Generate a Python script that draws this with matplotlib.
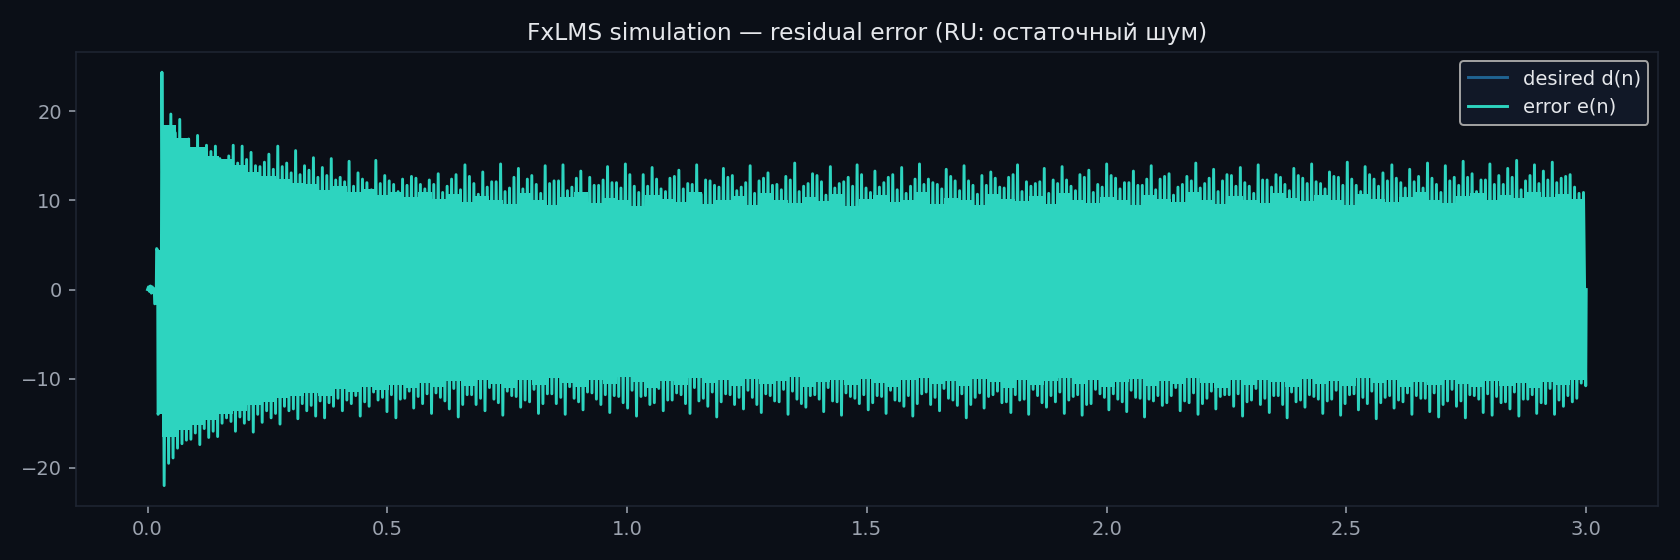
import numpy as np
import matplotlib
matplotlib.use("Agg")
import matplotlib.pyplot as plt

# colours
BG = "#0b0f17"
FG = "#e5e7eb"
MUTED = "#9ca3af"
SPINE = "#1f2633"
C_DES = "#1f6391"
C_ERR = "#2dd4bf"

# --- data (s, amplitude) ---
# start-up samples before adaptation kicks in
early_t = [0.000, 0.002, 0.004, 0.006, 0.008, 0.010, 0.012, 0.014, 0.015, 0.018, 0.019, 0.021, 0.022, 0.024, 0.028]
early_v = [0.0, 0.3, -0.2, 0.4, -0.4, 0.3, -0.3, 0.1, -1.6, -1.5, 4.6, 4.4, -14.0, -13.5, -13.8]
early_block_t = [0.022, 0.030]
early_block_hi = [4.4, 4.4]
early_block_lo = [-14.0, -14.0]

# tall upper peaks of e(n), 0.03 s .. 2.985 s
peak_hi = [
    24.4, 19.7, 19.1, 16.9, 17.3, 16.2, 16.1, 14.5, 16.2, 16.1,
    15.4, 13.8, 15.2, 16.1, 14.2, 15.6, 13.9, 14.8, 13.7, 14.7,
    12.6, 14.4, 13.1, 12.0, 14.5, 12.8, 11.8, 12.4, 12.7, 11.8,
    12.3, 13.0, 11.6, 12.9, 14.0, 11.9, 13.2, 12.1, 14.1, 11.4,
    13.6, 12.4, 11.8, 13.9, 12.2, 14.0, 11.5, 13.3, 12.6, 11.7,
    13.8, 12.0, 14.1, 11.6, 12.9, 13.7, 11.3, 12.5, 13.4, 11.9,
    14.0, 12.3, 11.7, 13.6, 12.8, 11.5, 13.9, 12.2, 13.1, 11.8,
    12.7, 14.2, 11.6, 13.0, 12.1, 13.8, 11.9, 12.6, 14.0, 11.4,
    13.3, 12.0, 12.9, 13.7, 11.6, 14.1, 12.4, 11.8, 13.5, 12.2,
    13.9, 11.7, 12.8, 13.2, 11.5, 12.6, 14.0, 12.1, 11.9, 13.6,
    12.3, 13.8, 11.6, 12.9, 13.4, 11.8, 14.1, 12.5, 12.0, 13.3,
    11.7, 13.9, 12.4, 13.0, 11.5, 12.7, 14.2, 11.9, 13.5, 12.2,
    12.8, 13.7, 11.6, 14.0, 12.3, 12.9, 11.8, 13.6, 12.5, 14.1,
    11.9, 13.2, 12.6, 14.3, 11.7, 13.8, 12.4, 13.1, 14.0, 12.0,
    13.5, 12.7, 14.2, 11.8, 13.9, 12.6, 14.4, 13.0, 12.3, 14.1,
    12.8, 13.6, 14.5, 12.2, 14.0, 13.3, 14.3, 12.5, 12.9, 10.8,
]
# tall lower peaks
peak_lo = [
    -22.0, -18.9, -17.3, -16.8, -17.4, -16.6, -16.5, -14.4, -15.9, -15.0,
    -16.0, -14.9, -14.4, -15.1, -13.6, -14.5, -13.6, -14.2, -14.4, -13.1,
    -13.6, -12.8, -14.2, -13.1, -12.4, -13.7, -14.4, -12.2, -13.3, -12.8,
    -13.9, -12.1, -13.4, -14.3, -11.8, -12.9, -13.6, -12.3, -14.1, -11.9,
    -13.2, -12.6, -13.9, -11.7, -12.8, -14.0, -12.2, -13.5, -11.6, -12.9,
    -13.8, -12.0, -13.3, -14.2, -11.9, -12.7, -13.6, -12.4, -11.8, -13.9,
    -12.5, -13.1, -14.3, -11.7, -12.9, -13.4, -12.1, -13.8, -11.9, -12.6,
    -14.0, -12.3, -13.2, -11.8, -13.7, -12.5, -14.1, -12.0, -12.8, -13.5,
    -11.9, -13.9, -12.4, -13.1, -14.2, -11.7, -12.9, -13.6, -12.2, -13.0,
    -14.4, -12.1, -13.3, -11.8, -12.7, -13.8, -12.4, -14.0, -11.9, -13.2,
    -12.6, -13.9, -12.0, -14.1, -12.8, -11.7, -13.5, -12.3, -13.7, -12.1,
    -14.3, -12.5, -13.0, -11.9, -13.6, -12.7, -14.0, -12.2, -13.4, -11.8,
    -13.1, -14.2, -12.4, -12.9, -13.8, -11.9, -14.4, -12.6, -13.2, -12.0,
    -13.9, -12.3, -14.1, -11.8, -13.5, -12.8, -14.5, -12.1, -13.3, -12.6,
    -14.0, -12.2, -13.7, -14.3, -12.5, -13.1, -14.4, -11.9, -13.8, -14.1,
    -12.7, -13.4, -14.2, -12.3, -13.9, -12.8, -14.0, -13.1, -12.6, -10.5,
]
# smaller in-between upper peaks
peak_hi2 = [
    18.2, 17.6, 16.4, 15.8, 15.1, 15.5, 14.7, 15.0, 14.2, 14.6,
    13.9, 14.3, 13.5, 13.8, 13.1, 12.9, 13.4, 12.6, 12.8, 12.3,
    12.1, 11.6, 12.4, 11.2, 11.9, 12.2, 11.0, 11.7, 12.5, 11.3,
    11.8, 10.9, 12.4, 11.2, 12.7, 10.7, 11.5, 12.1, 11.0, 12.6,
    11.3, 12.8, 10.8, 11.9, 12.2, 11.1, 12.5, 10.6, 11.7, 12.3,
    12.0, 11.4, 12.9, 10.9, 11.6, 12.4, 11.0, 12.7, 11.3, 11.8,
    10.7, 12.2, 11.5, 12.6, 11.1, 12.0, 10.8, 12.5, 11.7, 11.2,
    12.3, 11.0, 11.9, 12.8, 10.6, 11.4, 12.1, 11.6, 12.9, 10.9,
    11.5, 12.6, 11.2, 10.8, 12.4, 11.8, 12.0, 11.3, 12.7, 11.1,
    12.2, 10.7, 11.7, 12.5, 11.4, 12.9, 11.0, 11.6, 12.1, 10.8,
    11.9, 12.3, 11.1, 12.6, 10.9, 11.5, 12.8, 11.3, 12.0, 11.7,
    12.4, 11.2, 12.7, 10.6, 11.8, 12.2, 11.4, 12.5, 11.0, 12.9,
    11.6, 12.0, 10.8, 12.3, 11.5, 12.6, 11.1, 12.8, 11.9, 12.1,
    11.3, 12.7, 11.7, 12.4, 11.0, 12.9, 11.6, 12.2, 12.5, 11.4,
    12.1, 11.4, 12.5, 10.9, 12.2, 11.7, 12.6, 11.0, 12.3, 11.8,
    11.8, 12.6, 11.2, 12.8, 11.9, 12.3, 12.0, 12.7, 11.5, 10.9,
]
# smaller in-between lower peaks
peak_lo2 = [
    -19.5, -17.8, -16.9, -16.1, -15.6, -15.9, -15.0, -14.8, -14.3, -14.6,
    -14.0, -13.6, -13.9, -13.1, -13.4, -12.8, -13.0, -12.5, -12.7, -12.2,
    -12.4, -11.9, -12.6, -11.5, -12.1, -11.8, -12.3, -11.4, -12.0, -11.7,
    -11.6, -12.5, -11.1, -12.9, -11.8, -12.2, -11.0, -12.7, -11.4, -12.0,
    -12.4, -11.2, -12.8, -11.7, -12.1, -10.9, -12.6, -11.5, -12.3, -11.8,
    -11.9, -12.7, -11.3, -12.0, -12.9, -11.1, -12.4, -11.6, -12.8, -11.0,
    -12.2, -11.5, -12.6, -11.8, -12.1, -11.3, -12.9, -11.7, -12.5, -11.2,
    -11.4, -12.8, -11.9, -12.3, -11.0, -12.6, -11.6, -12.2, -11.8, -12.7,
    -12.0, -11.3, -12.5, -11.9, -12.8, -11.5, -12.1, -11.1, -12.4, -11.7,
    -12.9, -11.6, -12.0, -11.4, -12.6, -11.8, -12.3, -11.2, -12.7, -11.9,
    -11.5, -12.4, -11.8, -12.9, -11.2, -12.1, -11.7, -12.6, -11.3, -12.2,
    -12.3, -11.9, -12.7, -11.0, -12.5, -11.6, -12.8, -11.4, -12.0, -11.8,
    -11.7, -12.6, -11.1, -12.2, -11.9, -12.9, -11.5, -12.4, -11.8, -12.3,
    -12.5, -11.3, -12.8, -11.7, -12.1, -11.4, -12.7, -11.9, -12.4, -11.6,
    -11.9, -12.2, -11.6, -12.9, -11.2, -12.5, -11.8, -12.3, -11.7, -12.0,
    -12.6, -11.5, -12.3, -11.8, -12.7, -11.1, -12.4, -11.9, -12.2, -10.8,
]
end_t, end_v = 3.0, 0.0

# solid body of the oscillation: plateau level per 0.03 s block
plat_hi = [
    18.5, 17.0, 16.0, 15.0, 14.6, 14.0, 13.2, 12.8, 12.4, 12.0,
    11.8, 11.2, 11.6, 10.9, 11.3, 10.6, 11.0, 10.4, 10.9, 10.2,
    10.7, 9.8, 10.5, 10.1, 9.6, 10.8, 10.0, 9.5, 10.4, 10.9,
    9.7, 10.3, 10.0, 9.4, 10.6, 10.2, 9.8, 10.9, 9.6, 10.1,
    10.5, 9.5, 10.8, 10.0, 9.7, 10.4, 9.9, 10.7, 9.4, 10.2,
    10.6, 9.8, 10.1, 10.9, 9.6, 10.3, 10.0, 9.5, 10.7, 10.2,
    9.9, 10.5, 9.6, 10.8, 10.1, 9.7, 10.4, 10.0, 9.5, 10.6,
    10.2, 9.8, 10.9, 10.0, 9.6, 10.5, 10.1, 9.7, 10.8, 10.3,
    9.9, 10.6, 10.0, 9.5, 10.7, 10.2, 9.8, 10.4, 10.9, 10.1,
    9.7, 10.5, 10.8, 10.0, 10.6, 10.3, 10.9, 10.4, 10.7, 10.2,
]
plat_lo = [
    -16.5, -15.8, -15.2, -14.6, -14.0, -13.6, -13.0, -12.6, -12.2, -11.9,
    -11.6, -11.9, -11.2, -11.5, -10.9, -11.3, -10.7, -11.1, -10.5, -10.9,
    -10.3, -10.8, -10.1, -10.6, -11.0, -10.2, -10.7, -9.9, -10.5, -10.9,
    -10.1, -10.6, -9.8, -10.4, -11.0, -10.3, -10.7, -9.9, -10.5, -10.2,
    -10.8, -10.0, -10.6, -10.3, -9.8, -10.9, -10.4, -10.1, -10.7, -10.0,
    -10.5, -10.9, -10.2, -9.9, -10.6, -10.3, -10.8, -10.0, -10.4, -11.0,
    -10.1, -10.7, -10.3, -9.9, -10.6, -10.2, -10.9, -10.4, -10.0, -10.8,
    -10.3, -10.6, -9.9, -10.5, -11.0, -10.2, -10.7, -10.1, -10.4, -10.9,
    -10.0, -10.6, -10.3, -10.8, -9.9, -10.5, -10.2, -10.9, -10.4, -10.7,
    -10.1, -10.6, -10.9, -10.3, -10.8, -10.5, -11.0, -10.4, -10.7, -10.2,
]

# desired signal (hidden under the error trace)
des_t = [0.035, 0.3, 0.6, 0.9, 1.2, 1.5, 1.8, 2.1, 2.4, 2.7, 2.99]
des_v = [0.0, 6.0, -6.0, 6.0, -6.0, 6.0, -6.0, 6.0, -6.0, 6.0, 0.0]

# build the e(n) trace: early samples, then the four peak sets in turn
n = len(peak_hi)
t0 = np.linspace(0.03, 2.985, n)
step = t0[1] - t0[0]
t_pk = np.column_stack([t0, t0 + step / 4, t0 + step / 2, t0 + 3 * step / 4]).ravel()
v_pk = np.column_stack([peak_hi, peak_lo, peak_hi2, peak_lo2]).ravel()
err_t = np.concatenate([early_t, t_pk, [end_t]])
err_v = np.concatenate([early_v, v_pk, [end_v]])

# block edges for the plateau fill
plat_t = np.linspace(0.03, 2.995, len(plat_hi) + 1)
plat_hi_s = plat_hi + plat_hi[-1:]
plat_lo_s = plat_lo + plat_lo[-1:]

fig, ax = plt.subplots(figsize=(12, 4), dpi=140)
fig.patch.set_facecolor(BG)
ax.set_facecolor(BG)

ax.plot(des_t, des_v, color=C_DES, lw=1.5, label="desired d(n)", zorder=1)
ax.fill_between(early_block_t, early_block_lo, early_block_hi, color=C_ERR, lw=0, zorder=2)
ax.fill_between(plat_t, plat_lo_s, plat_hi_s, step="post", color=C_ERR, lw=0, zorder=2)
ax.plot(err_t, err_v, color=C_ERR, lw=1.5, label="error e(n)", zorder=3)

ax.set_title("FxLMS simulation — residual error (RU: остаточный шум)", color=FG, fontsize=12)
for s in ax.spines.values():
    s.set_color(SPINE)
ax.tick_params(colors=MUTED, labelsize=10)

leg = ax.legend(loc="upper right", fontsize=10, facecolor="#111827",
                edgecolor="#a3a3a3", framealpha=1)
for txt in leg.get_texts():
    txt.set_color(FG)

fig.subplots_adjust(left=0.045, right=0.987, top=0.908, bottom=0.096)
fig.savefig("out.png", dpi=140, facecolor=BG)
